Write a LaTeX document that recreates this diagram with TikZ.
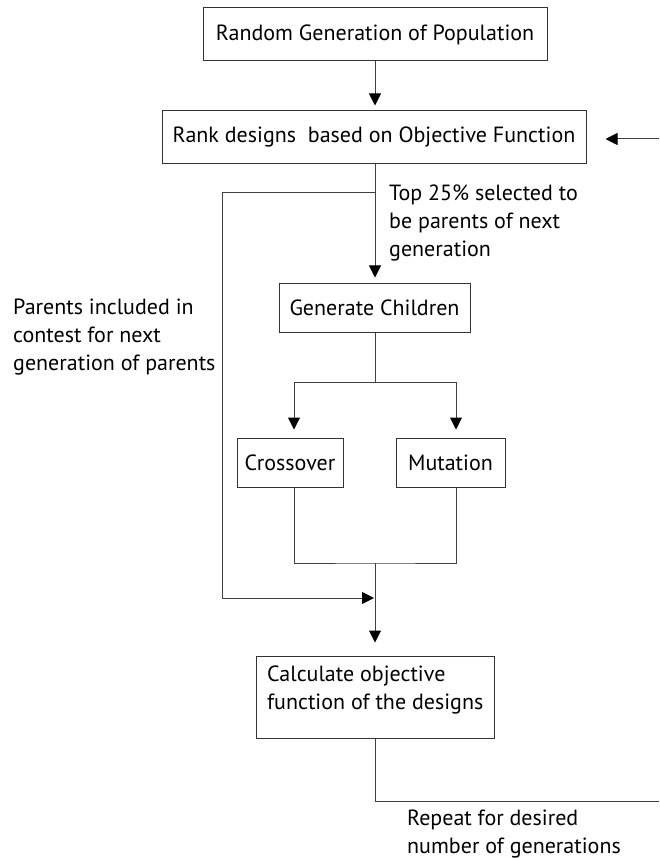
\documentclass[tikz,border=0pt]{standalone}
\usepackage{fontspec}
\setmainfont{PT Sans}
\usetikzlibrary{arrows.meta}

\begin{document}
\begin{tikzpicture}[x=1pt,y=-1pt,
  box/.style = {draw=black!80,line width=1pt,rectangle,inner sep=0pt},
  note/.style = {align=left,inner sep=0pt,anchor=west},
  flow/.style = {draw=black!75,line width=1pt},
  >={Triangle[length=12pt,width=12pt,color=black]},
  font=\fontsize{22}{28}\selectfont]
\useasboundingbox (0,0) rectangle (659,858);
%boxes
\node (pop) at (375,34.5) [box,minimum width=344,minimum height=53] {Random Generation of Population};
\node (rank) at (374,137.5) [box,minimum width=424,minimum height=53] {Rank designs\ \ based on Objective Function};
\node (kids) at (374.5,307.5) [box,minimum width=191,minimum height=49] {Generate Children};
\node (cross) at (290,462.5) [box,minimum width=106,minimum height=49] {Crossover};
\node (mut) at (450.5,462.5) [box,minimum width=109,minimum height=49] {Mutation};
\node (calc) at (375,697) [box,minimum width=238,minimum height=82] {};
\node (calctxt) at (267,690) [note] {Calculate objective\\function of the designs};
%labels
\node (top) at (389,223) [note] {Top 25\% selected to\\be parents of next\\generation};
\node (old) at (13,337) [note] {Parents included in\\contest for next\\generation of parents};
\node (rep) at (407,834) [note] {Repeat for desired\\number of generations};
%connectors
\coordinate (ax) at (375,0);
\coordinate (lb) at (294,0);
\coordinate (rb) at (456,0);
\coordinate (back) at (659,139);
\coordinate (split) at (375,193);
\coordinate (join) at (375,598);
\coordinate (fork) at (375,382);
\coordinate (merge) at (375,563);
\coordinate (out) at (659,801);
\draw[flow,->,shorten >=5pt] (pop.south -| ax) -- (rank.north -| ax);
\draw[flow,->,shorten >=19pt] (back) -- (rank.east |- back);
\draw[flow,->,shorten >=5pt] (rank.south -| ax) -- (kids.north -| ax);
\draw[flow,->,shorten >=1pt] (split) -- ++(-153,0) |- (join);
\draw[flow] (kids.south -| ax) -- (fork);
\draw[flow,->,shorten >=8pt] (fork) -| (cross.north -| lb);
\draw[flow,->,shorten >=8pt] (fork) -| (mut.north -| rb);
\draw[flow] (cross.south -| lb) |- (merge) -| (mut.south -| rb);
\draw[flow,->,shorten >=13pt] (merge) -- (calc.north -| ax);
\draw[flow] (calc.south -| ax) |- (out);

\end{tikzpicture}
\end{document}
